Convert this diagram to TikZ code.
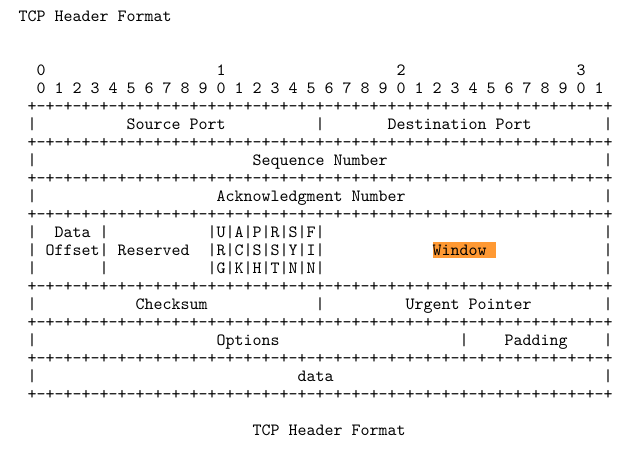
\documentclass[tikz,border=0pt]{standalone}
\usepackage{graphicx}

\definecolor{winorange}{RGB}{255,153,51}
\newcommand{\tcptext}[1]{\scalebox{1.7143}{\ttfamily\fontsize{10pt}{12pt}\selectfont #1}}
\tikzset{cell/.style={anchor=base west, inner sep=0pt, outer sep=0pt}}

\begin{document}
\begin{tikzpicture}[x=9pt, y=-18pt]
        \useasboundingbox (0pt,0pt) rectangle (634pt,-449pt);

        \node[cell] (title) at (2.06,1.22) {\tcptext{TCP Header Format}};

        \foreach \d/\c in {0/4,1/24,2/44,3/64}
            \node[cell] (tens\d) at (\c+0.06,4.22) {\tcptext{\d}};
        \node[cell] (ones) at (4.06,5.22) {\tcptext{0 1 2 3 4 5 6 7 8 9 0 1 2 3 4 5 6 7 8 9 0 1 2 3 4 5 6 7 8 9 0 1}};

        \foreach \r in {5,7,9,11,15,17,19,21}
            \node[cell] (sep\r) at (3.06,\r+1.22) {\tcptext{\foreach \i in {1,...,32}{+-}+}};

        \foreach \c/\r in {3/6,35/6,67/6, 3/8,67/8, 3/10,67/10,
                           3/12,11/12,23/12,67/12, 3/13,11/13,23/13,67/13, 3/14,11/14,23/14,67/14,
                           3/16,35/16,67/16, 3/18,51/18,67/18, 3/20,67/20}
            \node[cell] (bar\c-\r) at (\c+0.06,\r+1.22) {\tcptext{|}};

        \node[cell] (srcport) at (14.06,7.22) {\tcptext{Source Port}};
        \node[cell] (dstport) at (43.06,7.22) {\tcptext{Destination Port}};
        \node[cell] (seqnum) at (28.06,9.22) {\tcptext{Sequence Number}};
        \node[cell] (acknum) at (24.06,11.22) {\tcptext{Acknowledgment Number}};

        \node[cell] (dataoff) at (6.06,13.22) {\tcptext{Data}};
        \node[cell] (offset) at (5.06,14.22) {\tcptext{Offset}};
        \node[cell] (reserved) at (13.06,14.22) {\tcptext{Reserved}};
        \node[cell] (flagsA) at (24.06,13.22) {\tcptext{U|A|P|R|S|F|}};
        \node[cell] (flagsB) at (24.06,14.22) {\tcptext{R|C|S|S|Y|I|}};
        \node[cell] (flagsC) at (24.06,15.22) {\tcptext{G|K|H|T|N|N|}};

        \fill[winorange] (48.1,13.44) rectangle (55.1,14.33);
        \node[cell] (window) at (48.06,14.22) {\tcptext{Window}};

        \node[cell] (checksum) at (15.06,17.22) {\tcptext{Checksum}};
        \node[cell] (urgent) at (45.06,17.22) {\tcptext{Urgent Pointer}};
        \node[cell] (options) at (24.06,19.22) {\tcptext{Options}};
        \node[cell] (padding) at (56.06,19.22) {\tcptext{Padding}};
        \node[cell] (payload) at (33.06,21.22) {\tcptext{data}};

        \node[cell] (caption) at (28.06,24.22) {\tcptext{TCP Header Format}};

    \end{tikzpicture}
\end{document}
